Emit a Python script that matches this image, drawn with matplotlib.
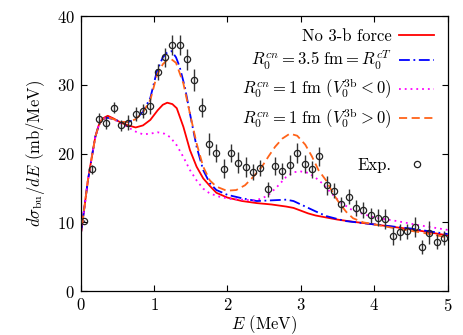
import matplotlib
matplotlib.use("Agg")
import matplotlib.pyplot as plt

plt.rcParams['font.family'] = 'serif'
plt.rcParams['font.serif'] = ['cmr10', 'DejaVu Serif']
plt.rcParams['mathtext.fontset'] = 'cm'
plt.rcParams['axes.formatter.use_mathtext'] = True
plt.rcParams['font.size'] = 12

# ---- experimental data ----
exp_E = [0.05, 0.15, 0.25, 0.35, 0.45, 0.55, 0.65, 0.75, 0.85, 0.95,
         1.05, 1.15, 1.25, 1.35, 1.45, 1.55, 1.65, 1.75, 1.85, 1.95,
         2.05, 2.15, 2.25, 2.35, 2.45, 2.55, 2.65, 2.75, 2.85, 2.95,
         3.05, 3.15, 3.25, 3.35, 3.45, 3.55, 3.65, 3.75, 3.85, 3.95,
         4.05, 4.15, 4.25, 4.35, 4.45, 4.55, 4.65, 4.75, 4.85, 4.95]
exp_val = [10.2, 17.7, 25.1, 24.5, 26.7, 24.1, 24.5, 25.8, 26.2, 26.9,
           31.9, 34.0, 35.8, 35.8, 33.7, 30.7, 26.7, 21.4, 20.1, 17.8,
           20.1, 18.7, 18.1, 17.3, 17.9, 14.8, 18.2, 17.5, 18.4, 20.1,
           18.5, 17.7, 19.6, 15.4, 14.6, 12.6, 13.7, 12.1, 11.8, 11.0,
           10.7, 10.5, 8.0, 8.6, 8.7, 9.3, 6.4, 8.5, 7.2, 7.7]
exp_err = [0.2, 0.6, 0.75, 0.9, 0.85, 0.8, 1.1, 1.0, 1.0, 1.2,
           1.2, 1.35, 1.5, 1.45, 1.55, 1.55, 1.35, 1.6, 1.35, 1.35,
           1.35, 1.5, 1.45, 1.2, 1.2, 1.1, 1.35, 1.15, 1.45, 1.4,
           1.35, 1.2, 1.35, 1.35, 1.1, 1.1, 1.1, 1.15, 1.15, 1.15,
           1.25, 1.45, 1.3, 1.2, 1.05, 1.45, 1.0, 1.7, 1.1, 1.0]

# ---- No 3-b force ----
red_E = [0.0, 0.05, 0.1, 0.15, 0.2, 0.25, 0.3, 0.37, 0.45, 0.55, 0.65, 0.75,
         0.85, 0.95, 1.05, 1.12, 1.18, 1.25, 1.31, 1.4, 1.49, 1.58, 1.67, 1.76,
         1.85, 2.0, 2.2, 2.4, 2.6, 2.8, 2.9, 3.0, 3.1, 3.2, 3.3, 3.5, 3.7, 4.0,
         4.5, 5.0]
red_val = [8.0, 12.0, 16.1, 19.3, 22.4, 24.2, 25.1, 25.5, 25.1, 24.5, 24.1, 23.8,
           24.1, 24.9, 26.3, 27.1, 27.4, 27.2, 26.6, 23.9, 20.5, 18.1, 16.4, 15.3,
           14.3, 13.6, 13.1, 12.8, 12.6, 12.3, 12.1, 11.7, 11.3, 11.0, 10.8, 10.4,
           10.1, 9.7, 9.0, 8.1]

# ---- R0 = 3.5 fm ----
blue_E = [0.0, 0.05, 0.1, 0.15, 0.2, 0.25, 0.3, 0.37, 0.45, 0.55, 0.65, 0.75,
          0.85, 0.95, 1.04, 1.12, 1.18, 1.24, 1.3, 1.35, 1.42, 1.49, 1.58, 1.67,
          1.76, 1.85, 2.0, 2.2, 2.4, 2.6, 2.8, 2.9, 3.0, 3.1, 3.2, 3.35, 3.6,
          4.0, 4.5, 5.0]
blue_val = [8.0, 12.0, 16.1, 19.3, 22.4, 24.2, 25.0, 25.2, 25.0, 24.6, 24.6, 25.0,
            26.1, 28.1, 32.0, 34.0, 34.7, 34.9, 34.0, 32.6, 29.7, 25.8, 21.0, 17.6,
            15.7, 14.7, 14.0, 13.5, 13.1, 13.2, 13.3, 13.1, 12.6, 12.1, 11.6, 10.9,
            10.2, 9.7, 9.1, 8.3]

# ---- R0 = 1 fm, V < 0 ----
mag_E = [0.0, 0.05, 0.1, 0.15, 0.2, 0.25, 0.3, 0.37, 0.45, 0.55, 0.65, 0.75,
         0.85, 0.95, 1.05, 1.14, 1.22, 1.31, 1.4, 1.49, 1.58, 1.67, 1.76, 1.9,
         2.05, 2.2, 2.35, 2.45, 2.55, 2.67, 2.8, 2.9, 3.0, 3.1, 3.2, 3.3, 3.4,
         3.53, 3.71, 4.0, 4.3, 4.6, 5.0]
mag_val = [8.0, 12.0, 16.1, 19.3, 22.4, 24.2, 25.0, 25.3, 25.0, 24.4, 23.8, 23.2,
           22.8, 22.9, 23.1, 22.9, 22.4, 21.2, 19.5, 17.6, 16.1, 14.9, 14.2, 13.7,
           13.4, 13.3, 13.2, 13.4, 13.9, 15.1, 16.6, 17.3, 17.4, 17.2, 16.5, 15.6,
           14.4, 13.0, 11.7, 10.7, 10.2, 9.6, 8.9]

# ---- R0 = 1 fm, V > 0 ----
org_E = [0.0, 0.05, 0.1, 0.15, 0.2, 0.25, 0.3, 0.37, 0.45, 0.55, 0.65, 0.75,
         0.85, 0.95, 1.04, 1.12, 1.18, 1.24, 1.3, 1.4, 1.49, 1.58, 1.67, 1.76,
         1.85, 1.99, 2.12, 2.24, 2.35, 2.47, 2.56, 2.65, 2.75, 2.85, 2.95, 3.06,
         3.15, 3.24, 3.35, 3.45, 3.53, 3.62, 3.71, 3.85, 4.0, 4.3, 4.6, 5.0]
org_val = [8.0, 12.0, 16.1, 19.3, 22.4, 24.2, 25.0, 25.3, 25.0, 24.6, 24.6, 25.0,
           26.0, 27.8, 31.4, 33.0, 33.6, 33.7, 33.2, 30.2, 25.8, 21.5, 18.1, 16.1,
           15.2, 14.6, 14.7, 15.4, 16.6, 18.1, 19.6, 21.0, 22.2, 22.9, 22.6, 21.3,
           19.6, 17.6, 16.0, 14.0, 12.7, 11.5, 10.6, 10.0, 9.7, 9.1, 8.6, 7.8]

labels = ["No 3-b force",
          r"$R_0^{cn}=3.5\ \mathrm{fm}=R_0^{cT}$",
          r"$R_0^{cn}=1\ \mathrm{fm}\ (V_0^{3\mathrm{b}}<0)$",
          r"$R_0^{cn}=1\ \mathrm{fm}\ (V_0^{3\mathrm{b}}>0)$",
          "Exp."]

fig = plt.figure(figsize=(4.63, 3.35), dpi=100)
ax = fig.add_axes([0.174, 0.131, 0.793, 0.821])

l1, = ax.plot(red_E, red_val, color='#ff0000', lw=1.3, label=labels[0])
l2, = ax.plot(blue_E, blue_val, color='#0000ff', lw=1.3,
              dashes=(6, 2, 1, 2), label=labels[1])
l3, = ax.plot(mag_E, mag_val, color='#ff00ff', lw=1.3,
              dashes=(1, 2.2), label=labels[2])
l4, = ax.plot(org_E, org_val, color='#ff6319', lw=1.3,
              dashes=(4.5, 2.5), label=labels[3])
ax.errorbar(exp_E, exp_val, yerr=exp_err, fmt='none', ecolor='#333333',
            elinewidth=1.0, capsize=0, zorder=3)
pts, = ax.plot(exp_E, exp_val, 'o', ms=4.5, mfc='none', mec='#222222',
               mew=0.9, zorder=4, label=labels[4])

ax.set_xlim(0, 5)
ax.set_ylim(0, 40)
ax.set_xticks([0, 1, 2, 3, 4, 5])
ax.set_yticks([0, 10, 20, 30, 40])
ax.tick_params(direction='in', top=True, right=True, length=4, width=0.8,
               labelsize=12, pad=4)
for s in ax.spines.values():
    s.set_linewidth(0.9)

ax.set_xlabel(r"$E$ (MeV)", fontsize=12)
ax.xaxis.set_label_coords(0.5, -0.082)
ax.set_ylabel(r"$d\sigma_{\mathrm{bu}}/dE$ (mb/MeV)", fontsize=12, labelpad=7)

leg1 = ax.legend(handles=[l1, l2, l3, l4], loc='upper right',
                 bbox_to_anchor=(0.99, 0.99), frameon=False, markerfirst=False,
                 handlelength=2.1, handletextpad=0.45, labelspacing=0.3,
                 fontsize=12, borderaxespad=0.2)
for t in leg1.get_texts():
    t.set_ha('right')
ax.add_artist(leg1)
leg2 = ax.legend(handles=[pts], loc='center right', bbox_to_anchor=(0.99, 0.458),
                 frameon=False, markerfirst=False, handlelength=2.1,
                 handletextpad=0.45, fontsize=12, borderaxespad=0.2)

fig.savefig("out.png", dpi=100)
